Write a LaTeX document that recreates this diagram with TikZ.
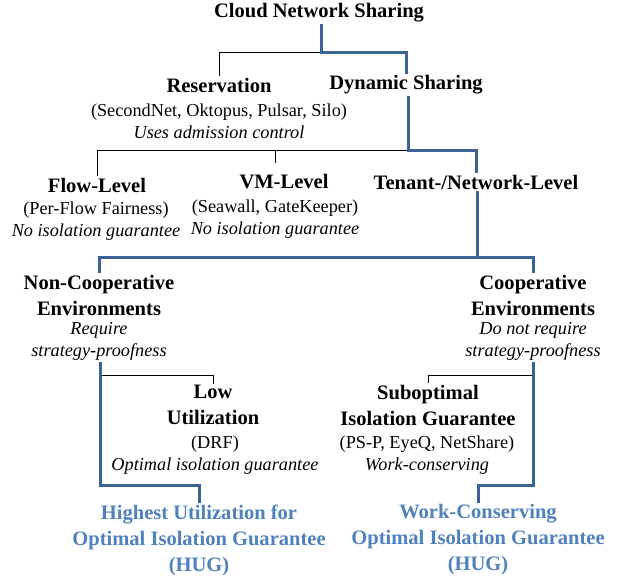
\documentclass[tikz,border=0pt]{standalone}
\usepackage{fontspec}
\setmainfont{Liberation Serif}
\definecolor{lnblue}{HTML}{3A6496}
\definecolor{txblue}{HTML}{4F81BD}
\tikzset{every picture/.style={line width=0.75pt}}

\begin{document}
\begin{tikzpicture}[x=0.75pt,y=0.75pt,yscale=-1,xscale=1,
	hd/.style={inner sep=0.75pt,align=center,font={\fontsize{15.4}{19.5}\selectfont\bfseries}},
	ds/.style={inner sep=0.75pt,align=center,font={\fontsize{13.7}{16.5}\selectfont}},
	hug/.style={hd,text=txblue},
	blueln/.style={draw=lnblue,line width=2.25pt},
	thinln/.style={draw=black,line width=0.75pt}]
	\useasboundingbox (0,0) rectangle (621,576);
	
	% Text Node
	\draw (319,13) node [hd] (cns) {Cloud Network Sharing};
	% Text Node
	\draw (219,85) node [hd] (res) {Reservation};
	% Text Node
	\draw (219,121) node [ds] (resd) {(SecondNet, Oktopus, Pulsar, Silo)\\\textit{Uses admission control}};
	% Text Node
	\draw (406,85) node [hd] (dyn) {Dynamic Sharing};
	% Text Node
	\draw (97,185) node [hd] (flow) {Flow-Level};
	% Text Node
	\draw (96,221.5) node [ds] (flowd) {(Per-Flow Fairness)\\\textit{No isolation guarantee}};
	% Text Node
	\draw (284,182) node [hd] (vm) {VM-Level};
	% Text Node
	\draw (275,219.5) node [ds] (vmd) {(Seawall, GateKeeper)\\\textit{No isolation guarantee}};
	% Text Node
	\draw (476,182) node [hd] (ten) {Tenant-/Network-Level};
	% Text Node
	\draw (99,295) node [hd] (nc) {Non-Cooperative\\Environments};
	% Text Node
	\draw (99,341.5) node [ds] (ncd) {\textit{Require}\\\textit{strategy-proofness}};
	% Text Node
	\draw (533,295) node [hd] (co) {Cooperative\\Environments};
	% Text Node
	\draw (533,341.5) node [ds] (cod) {\textit{Do not require}\\\textit{strategy-proofness}};
	% Text Node
	\draw (213,405) node [hd] (low) {Low\\Utilization};
	% Text Node
	\draw (215,455.5) node [ds] (lowd) {(DRF)\\\textit{Optimal isolation guarantee}};
	% Text Node
	\draw (428,405) node [hd] (sub) {Suboptimal\\Isolation Guarantee};
	% Text Node
	\draw (427,455.5) node [ds] (subd) {(PS-P, EyeQ, NetShare)\\\textit{Work-conserving}};
	% Text Node
	\draw (199,540) node [hug] (hugl) {Highest Utilization for\\Optimal Isolation Guarantee\\(HUG)};
	% Text Node
	\draw (478,540) node [hug] (hugr) {Work-Conserving\\Optimal Isolation Guarantee\\(HUG)};
	
	\coordinate (j1) at (321,52);
	\coordinate (j2) at (408,150);
	\coordinate (j3) at (477,257);
	\coordinate (kl) at (100,375);
	\coordinate (jl) at (100,485);
	\coordinate (kr) at (533,375);
	\coordinate (jr) at (533,485);
	
	%Straight Lines
	\draw [thinln] (j1) -| (res.north);
	\draw [blueln] (cns.south -| j1) -- (j1) -| (dyn.north);
	%Straight Lines
	\draw [thinln] (j2) -| (flow.north);
	\draw [thinln] (j2 -| vmd.north) -- ++(0,13);
	\draw [blueln] (dyn.south -| j2) -- (j2) -| (ten.north);
	%Straight Lines
	\draw [blueln] (ten.south -| j3) -- (j3);
	\draw [blueln] (nc.north) -- (nc.north |- j3) -- (co.north |- j3) -- (co.north);
	%Straight Lines
	\draw [thinln] (kl) -| (low.north);
	\draw [blueln] (ncd.south -| jl) -- (jl) -| (hugl.north);
	%Straight Lines
	\draw [thinln] (kr) -| (sub.north);
	\draw [blueln] (cod.south -| jr) -- (jr) -| (hugr.north);
	
\end{tikzpicture}
\end{document}
